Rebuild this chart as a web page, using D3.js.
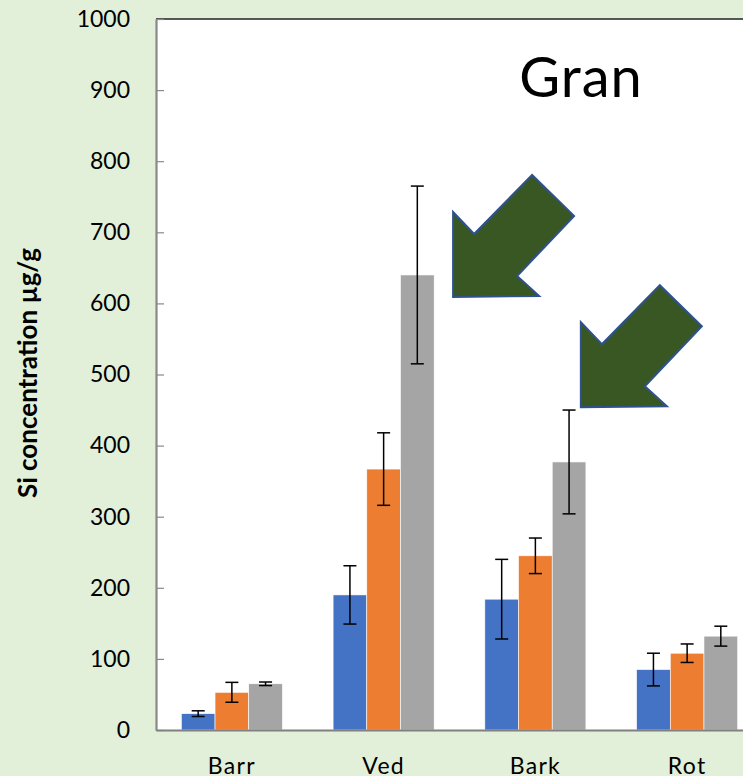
<!DOCTYPE html>
<html>
<head>
<meta charset="utf-8">
<script src="https://cdn.jsdelivr.net/npm/d3@7"></script>
<style>
  body { margin:0; background:#e2efd9; }
  svg { display:block; font-family: Lato, "Open Sans", sans-serif; }
</style>
</head>
<body>
<div id="plot"></div>
<script>
// data
var categories = ["Barr", "Ved", "Bark", "Rot"];
var series = ["s1", "s2", "s3"];
var colors = ["#4472c4", "#ed7d31", "#a5a5a5"];
var values = [
    [23, 190, 184, 85],
    [53, 367, 245, 108],
    [65, 640, 377, 132]
];
var errors = [
    [4, 41, 56, 23],
    [14, 51, 25, 13],
    [2.5, 125, 73, 14]
];
var yTicks = [0, 100, 200, 300, 400, 500, 600, 700, 800, 900, 1000];
// arrow annotations: category, value of corner, x offset from band start
var arrows = [
    {cat: "Ved", value: 609, dx: 120},
    {cat: "Bark", value: 454, dx: 96}
];

function plot_bars(){
    var width = 743,
        height = 776,
        margin = {left:156, top:19, right:-20, bottom:46},
        g_width = width-margin.left-margin.right,
        g_height = height-margin.top-margin.bottom;

    var svg = d3.select("#plot")
        .append("svg")
        .attr("width", width)
        .attr("height", height);

    svg.append("rect")
        .attr("width", width).attr("height", height)
        .attr("fill", "#e2efd9");

    // plot area
    svg.append("rect")
        .attr("x", margin.left).attr("y", margin.top)
        .attr("width", width-margin.left).attr("height", g_height)
        .attr("fill", "#fff");

    var xScale = d3.scaleBand()
        .domain(categories)
        .range([margin.left, margin.left+g_width])
        .paddingInner(0.334)
        .paddingOuter(0.167);

    var xSub = d3.scaleBand()
        .domain(series)
        .range([0, xScale.bandwidth()]);

    var yScale = d3.scaleLinear()
        .domain([0,1000])
        .range([g_height+margin.top, margin.top]);

    // bars
    series.forEach(function(s, si){
        var g = svg.append("g").attr("fill", colors[si]);
        categories.forEach(function(c, ci){
            var v = values[si][ci];
            g.append("rect")
                .attr("x", xScale(c)+xSub(s))
                .attr("y", yScale(v))
                .attr("width", xSub.bandwidth())
                .attr("height", yScale(0)-yScale(v))
                .attr("stroke", "#fff")
                .attr("stroke-width", 0.6);
        });
    });

    // error bars
    var eg = svg.append("g").attr("stroke", "#000").attr("stroke-width", 1.5);
    series.forEach(function(s, si){
        categories.forEach(function(c, ci){
            var cx = xScale(c)+xSub(s)+xSub.bandwidth()/2,
                hi = yScale(values[si][ci]+errors[si][ci]),
                lo = yScale(values[si][ci]-errors[si][ci]);
            eg.append("line").attr("x1", cx).attr("x2", cx).attr("y1", hi).attr("y2", lo);
            eg.append("line").attr("x1", cx-6.5).attr("x2", cx+6.5).attr("y1", hi).attr("y2", hi);
            eg.append("line").attr("x1", cx-6.5).attr("x2", cx+6.5).attr("y1", lo).attr("y2", lo);
        });
    });

    // top border
    svg.append("line")
        .attr("x1", margin.left).attr("x2", width)
        .attr("y1", margin.top).attr("y2", margin.top)
        .attr("stroke", "#222").attr("stroke-width", 1.5);

    // y axis
    var yAxis = d3.axisLeft(yScale)
        .tickValues(yTicks)
        .tickFormat(d3.format("d"))
        .tickSizeInner(-8)
        .tickSizeOuter(0)
        .tickPadding(26);

    var ya = svg.append("g")
        .attr("transform", "translate(" + margin.left + ",0)")
        .call(yAxis)
        .attr("font-family", null)
        .attr("font-size", 23);
    ya.select(".domain").attr("stroke", "#898989").attr("stroke-width", 2.2);
    ya.selectAll(".tick line").attr("stroke", "#898989").attr("stroke-width", 1.2);
    ya.selectAll(".tick text").attr("fill", "#000");

    // x axis
    var xAxis = d3.axisBottom(xScale)
        .tickSize(0)
        .tickPadding(28);
    var xa = svg.append("g")
        .attr("transform", "translate(0," + (g_height+margin.top) + ")")
        .call(xAxis)
        .attr("font-family", null)
        .attr("font-size", 23);
    xa.select(".domain").attr("stroke", "#808080").attr("stroke-width", 2);
    xa.selectAll(".tick text").attr("fill", "#000").attr("letter-spacing", 1.3);

    // y title
    svg.append("text")
        .attr("transform", "translate(37," + 373 + ") rotate(-90)")
        .attr("text-anchor", "middle")
        .attr("font-size", 26)
        .attr("font-weight", "bold")
        .text("Si concentration µg/g");

    // title
    svg.append("text")
        .attr("x", 581).attr("y", 97)
        .attr("text-anchor", "middle")
        .attr("font-size", 56)
        .attr("letter-spacing", 1)
        .text("Gran");

    // arrows
    var shape = [[0,-85],[21,-63],[79,-122],[121,-81],[64,-21],[86,-1],[0,0]];
    arrows.forEach(function(a){
        var ox = xScale(a.cat) + a.dx, oy = yScale(a.value);
        svg.append("path")
            .attr("d", d3.line()(shape.map(function(p){ return [ox+p[0], oy+p[1]]; })) + "Z")
            .attr("fill", "#385723")
            .attr("stroke", "#2f528f")
            .attr("stroke-width", 2)
            .attr("stroke-linejoin", "miter");
    });
}

plot_bars();
</script>
</body>
</html>
